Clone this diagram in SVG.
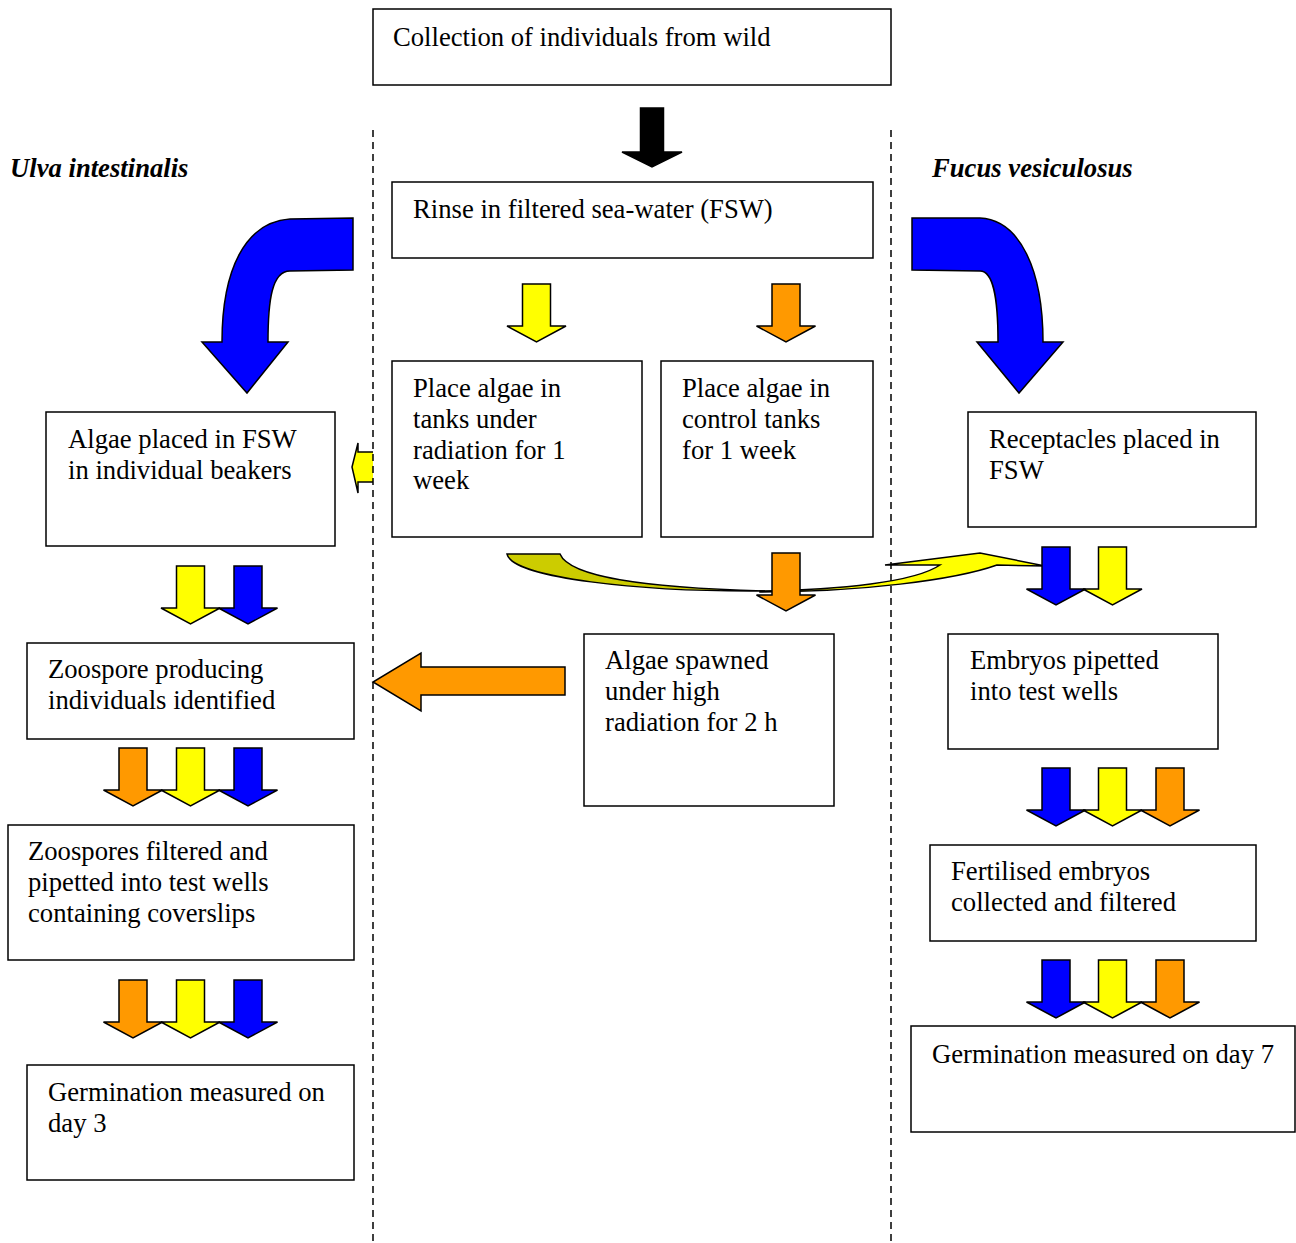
<svg xmlns="http://www.w3.org/2000/svg" xmlns:xlink="http://www.w3.org/1999/xlink" width="1296" height="1243" viewBox="0 0 1296 1243">
<style>
.box{fill:#fff;stroke:#000;stroke-width:1.5}
.t{font-family:"Liberation Serif","Times New Roman",serif;font-size:26.67px;fill:#000}
.ti{font-family:"Liberation Serif","Times New Roman",serif;font-size:26.67px;font-weight:bold;font-style:italic;fill:#000}
.ar{stroke:#000;stroke-width:1.5;stroke-linejoin:miter}
.dash{stroke:#000;stroke-width:1.5;stroke-dasharray:7,5;fill:none}
.y{fill:#FFFF00}.o{fill:#FF9900}.b{fill:#0000FF}.k{fill:#000}
</style>
<defs>
<path id="down" d="M-14,0 H14 V42 H29.5 L0,58 L-29.5,42 H-14 Z"/>
<path id="downk" d="M-11.5,0 H11.5 V44 H30 L0,59 L-30,44 H-11.5 Z"/>
</defs>
<rect width="1296" height="1243" fill="#fff"/>

<g id="connectors">
  <!-- curved yellow arrow -->
  <path class="ar" fill="#CCCC00" d="M507,554 L560,554 C570,578 650,588 765,591 C640,592 512,578 507,554 Z"/>
  <path class="ar" fill="#FFFF00" d="M760,591 C840,590 915,582 940,565 L885,565 L980,553 L1045,566 L997,565 C955,580 860,592 760,592 Z"/>
  <use href="#downk" class="ar k" transform="translate(652,108)"/>
  <use href="#down" class="ar y" transform="translate(536.5,284)"/>
  <use href="#down" class="ar o" transform="translate(786,284)"/>
  <use href="#down" class="ar o" transform="translate(786,553)"/>
  <!-- curved blue arrows -->
  <path class="ar b" d="M353,218 L290,219 C245,222 222,270 222,342 L202,342 L247,393 L288,342 L268,342 C268,300 272,271 290,271 L353,270 Z"/>
  <path class="ar b" d="M912,218 L980,218 C1020,220 1043,270 1043,342 L1063,342 L1019,393 L977,342 L998,342 C998,300 994,271 980,271 L912,270 Z"/>
  <!-- small yellow left arrow -->
  <path class="ar y" d="M373,452 L358,452 L358,443 L352,467 L358,493 L358,482 L373,482"/>
  <!-- orange left arrow -->
  <path class="ar o" d="M565,667 L421,667 L421,653 L373,682 L421,711 L421,695 L565,695 Z"/>
  <!-- left rows -->
  <use href="#down" class="ar y" transform="translate(190.5,566)"/>
  <use href="#down" class="ar b" transform="translate(248,566)"/>
  <use href="#down" class="ar o" transform="translate(133,748)"/>
  <use href="#down" class="ar y" transform="translate(190.5,748)"/>
  <use href="#down" class="ar b" transform="translate(248,748)"/>
  <use href="#down" class="ar o" transform="translate(133,980)"/>
  <use href="#down" class="ar y" transform="translate(190.5,980)"/>
  <use href="#down" class="ar b" transform="translate(248,980)"/>
  <!-- right rows -->
  <use href="#down" class="ar b" transform="translate(1056,547)"/>
  <use href="#down" class="ar y" transform="translate(1112.5,547)"/>
  <use href="#down" class="ar b" transform="translate(1056,768)"/>
  <use href="#down" class="ar y" transform="translate(1112.5,768)"/>
  <use href="#down" class="ar o" transform="translate(1170,768)"/>
  <use href="#down" class="ar b" transform="translate(1056,960)"/>
  <use href="#down" class="ar y" transform="translate(1112.5,960)"/>
  <use href="#down" class="ar o" transform="translate(1170,960)"/>
  <!-- dashed dividers -->
  <line class="dash" x1="373" y1="130" x2="373" y2="1243"/>
  <line class="dash" x1="891" y1="130" x2="891" y2="1243"/>
</g>

<g id="title-ulva"><text class="ti" x="10" y="177">Ulva intestinalis</text></g>
<g id="title-fucus"><text class="ti" x="932" y="177">Fucus vesiculosus</text></g>

<g id="n-collection">
  <rect class="box" x="373" y="9" width="518" height="76"/>
  <text class="t" x="393" y="46">Collection of individuals from wild</text>
</g>
<g id="n-rinse">
  <rect class="box" x="392" y="182" width="481" height="76"/>
  <text class="t" x="413" y="218">Rinse in filtered sea-water (FSW)</text>
</g>
<g id="n-radiation">
  <rect class="box" x="392" y="361" width="250" height="176"/>
  <text class="t" x="413" y="397">Place algae in</text>
  <text class="t" x="413" y="428">tanks under</text>
  <text class="t" x="413" y="459">radiation for 1</text>
  <text class="t" x="413" y="489">week</text>
</g>
<g id="n-control">
  <rect class="box" x="661" y="361" width="212" height="176"/>
  <text class="t" x="682" y="397">Place algae in</text>
  <text class="t" x="682" y="428">control tanks</text>
  <text class="t" x="682" y="459">for 1 week</text>
</g>
<g id="n-beakers">
  <rect class="box" x="46" y="412" width="289" height="134"/>
  <text class="t" x="68" y="448">Algae placed in FSW</text>
  <text class="t" x="68" y="479">in individual beakers</text>
</g>
<g id="n-receptacles">
  <rect class="box" x="968" y="412" width="288" height="115"/>
  <text class="t" x="989" y="448">Receptacles placed in</text>
  <text class="t" x="989" y="479">FSW</text>
</g>
<g id="n-zoospore">
  <rect class="box" x="27" y="643" width="327" height="96"/>
  <text class="t" x="48" y="678">Zoospore producing</text>
  <text class="t" x="48" y="709">individuals identified</text>
</g>
<g id="n-spawned">
  <rect class="box" x="584" y="634" width="250" height="172"/>
  <text class="t" x="605" y="669">Algae spawned</text>
  <text class="t" x="605" y="700">under high</text>
  <text class="t" x="605" y="731">radiation for 2 h</text>
</g>
<g id="n-embryos">
  <rect class="box" x="948" y="634" width="270" height="115"/>
  <text class="t" x="970" y="669">Embryos pipetted</text>
  <text class="t" x="970" y="700">into test wells</text>
</g>
<g id="n-filtered">
  <rect class="box" x="8" y="825" width="346" height="135"/>
  <text class="t" x="28" y="860">Zoospores filtered and</text>
  <text class="t" x="28" y="891">pipetted into test wells</text>
  <text class="t" x="28" y="922">containing coverslips</text>
</g>
<g id="n-fertilised">
  <rect class="box" x="930" y="845" width="326" height="96"/>
  <text class="t" x="951" y="880">Fertilised embryos</text>
  <text class="t" x="951" y="911">collected and filtered</text>
</g>
<g id="n-germ3">
  <rect class="box" x="27" y="1065" width="327" height="115"/>
  <text class="t" x="48" y="1101">Germination measured on</text>
  <text class="t" x="48" y="1132">day 3</text>
</g>
<g id="n-germ7">
  <rect class="box" x="911" y="1026" width="384" height="106"/>
  <text class="t" x="932" y="1063">Germination measured on day 7</text>
</g>
</svg>
